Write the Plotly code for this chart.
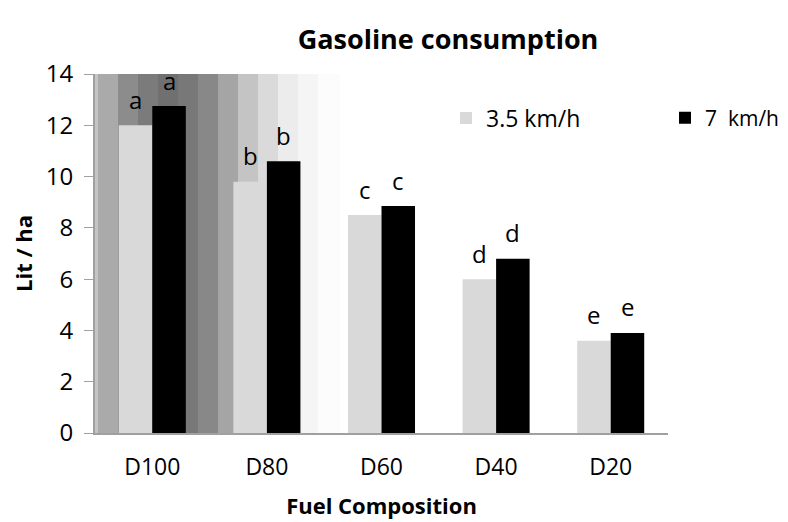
import plotly.graph_objects as go

categories = ["D100", "D80", "D60", "D40", "D20"]
series_names = ["3.5 km/h", "7  km/h"]
slow_vals = [12.0, 9.8, 8.5, 6.0, 3.6]
fast_vals = [12.75, 10.6, 8.85, 6.8, 3.9]
slow_letters = ["a", "b", "c", "d", "e"]
fast_letters = ["a", "b", "c", "d", "e"]
y_ticks = [0, 2, 4, 6, 8, 10, 12, 14]

FONT = "Open Sans"
OFF = 8  # page body margin
W, H = 788 - OFF, 522 - OFF
ML, MR, MT, MB = 95 - OFF, 120, 74 - OFF, 89
plot_w = W - ML - MR
bargap = 0.415
cat_px = plot_w / len(categories)
bar_shift = (1 - bargap) * cat_px / 4

fig = go.Figure()
fig.add_trace(go.Bar(x=categories, y=slow_vals, name=series_names[0], legend="legend",
                     showlegend=True, marker=dict(color="#d9d9d9", line=dict(width=0))))
fig.add_trace(go.Bar(x=categories, y=fast_vals, name=series_names[1], legend="legend2",
                     showlegend=True, marker=dict(color="#000000", line=dict(width=0))))

annotations = []
for c, v, t in zip(categories, slow_vals, slow_letters):
    annotations.append(dict(x=c, y=v, text=t, showarrow=False, xshift=-bar_shift,
                            yshift=26, font=dict(family=FONT, size=24, color="#000")))
for c, v, t in zip(categories, fast_vals, fast_letters):
    annotations.append(dict(x=c, y=v, text=t, showarrow=False, xshift=bar_shift,
                            yshift=26, font=dict(family=FONT, size=24, color="#000")))

# decorative grey gradient stripes in the background (pixel edges of the reference)
band_edges = [95, 98, 118, 138, 158, 178, 198, 218, 238, 258, 278, 298, 318, 340]
band_colors = ["#c4c4c4", "#aaaaaa", "#8c8c8c", "#7b7b7b", "#707070", "#787878",
               "#888888", "#a5a5a5", "#c4c4c4", "#dadada", "#ececec", "#f5f5f5", "#fcfcfc"]
shapes = []
for i, col in enumerate(band_colors):
    shapes.append(dict(type="rect", xref="paper", yref="paper",
                       x0=(band_edges[i] - 95) / plot_w, x1=(band_edges[i + 1] - 95) / plot_w,
                       y0=0, y1=1, fillcolor=col, line=dict(width=0), layer="below"))

legend_common = dict(orientation="h", xanchor="left", xref="container", yref="container",
                     y=1 - (118 - OFF) / H, yanchor="middle",
                     bgcolor="rgba(0,0,0,0)", borderwidth=0)

fig.update_layout(
    width=W, height=H,
    margin=dict(l=ML, r=MR, t=MT, b=MB, autoexpand=False),
    paper_bgcolor="white", plot_bgcolor="white",
    showlegend=True,
    barmode="group", bargap=bargap, bargroupgap=0,
    font=dict(family=FONT, color="#000"),
    title=dict(text="<b>Gasoline consumption</b>", x=(448 - OFF) / W, xanchor="center",
               y=1 - (40 - OFF) / H, yanchor="middle", font=dict(family=FONT, size=27, color="#000")),
    legend=dict(x=(446 - OFF) / W, font=dict(family=FONT, size=23, color="#000"), **legend_common),
    legend2=dict(x=(665 - OFF) / W, font=dict(family=FONT, size=21, color="#000"), **legend_common),
    xaxis=dict(showline=True, linecolor="#a0a0a0", linewidth=2, ticks="",
               tickfont=dict(family=FONT, size=23, color="#000"), ticklabelstandoff=12,
               title=dict(text="<b>Fuel Composition</b>", font=dict(family=FONT, size=22, color="#000"),
                          standoff=18),
               showgrid=False, zeroline=False),
    yaxis=dict(range=[0, 14], tickvals=y_ticks, showline=True, linecolor="#a0a0a0",
               linewidth=2, ticks="outside", ticklen=9, tickcolor="#a0a0a0",
               tickfont=dict(family=FONT, size=24, color="#000"), ticklabelstandoff=6,
               title=dict(text="<b>Lit / ha</b>", font=dict(family=FONT, size=22, color="#000"),
                          standoff=10),
               showgrid=False, zeroline=False),
    shapes=shapes,
    annotations=annotations,
)

fig.write_html("out.html")
